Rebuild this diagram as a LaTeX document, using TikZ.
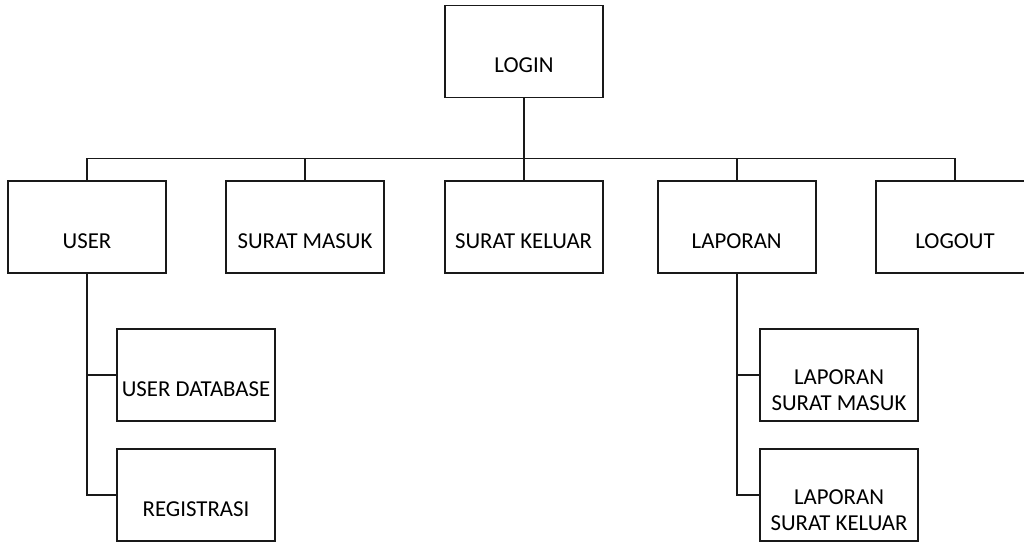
\documentclass[tikz,border=0pt]{standalone}
\usepackage{fontspec}
\setmainfont{Carlito}
\begin{document}
\begin{tikzpicture}[x=1pt,y=-1pt,
  box/.style={draw=black!90, line width=1.8pt, fill=white, minimum width=158pt, minimum height=92pt, inner sep=0pt},
  lbl/.style={font=\fontsize{22.8}{26.6}\selectfont, align=center, inner sep=0pt, text=black},
  link/.style={draw=black!90, line width=1.8pt}]
\useasboundingbox (0,0) rectangle (1024,542);
\clip (0,0) rectangle (1024,542);
\fill[white] (0,0) rectangle (1024,542);

% top level
\node[box] (login) at (524,51.5) {};
\node[lbl] (loginT) at ([yshift=-14pt]login.center) {LOGIN};

% second level
\node[box] (user)  at (87,227) {};
\node[box] (smasuk) at (305,227) {};
\node[box] (skeluar) at (523.6,227) {};
\node[box] (lap) at (736.7,227) {};
\node[box] (logout) at (955,227) {};
\node[lbl] (userT) at ([yshift=-14pt]user.center) {USER};
\node[lbl] (smasukT) at ([yshift=-14pt]smasuk.center) {SURAT MASUK};
\node[lbl] (skeluarT) at ([yshift=-14pt]skeluar.center) {SURAT KELUAR};
\node[lbl] (lapT) at ([yshift=-14pt]lap.center) {LAPORAN};
\node[lbl] (logoutT) at ([yshift=-14pt]logout.center) {LOGOUT};

% third level
\node[box] (udb) at (196,375) {};
\node[box] (reg) at (196,495) {};
\node[box] (lsm) at (839,375) {};
\node[box] (lsk) at (839,495) {};
\node[lbl] (udbT) at ([yshift=-14pt]udb.center) {USER DATABASE};
\node[lbl] (regT) at ([yshift=-14pt]reg.center) {REGISTRASI};
\node[lbl] (lsmT) at ([yshift=-15pt]lsm.center) {LAPORAN\\SURAT MASUK};
\node[lbl] (lskT) at ([yshift=-15pt]lsk.center) {LAPORAN\\SURAT KELUAR};

% bus line
\coordinate (bus) at (0,158.5);
\draw[link] (login.south) -- (login.south |- bus);
\draw[link] (user.north) -- (user.north |- bus) -- (logout.north |- bus) -- (logout.north);
\draw[link] (smasuk.north) -- (smasuk.north |- bus);
\draw[link] (skeluar.north) -- (skeluar.north |- bus);
\draw[link] (lap.north) -- (lap.north |- bus);

% sub-branches
\draw[link] (user.south) |- (udb.west);
\draw[link] (user.south) |- (reg.west);
\draw[link] (lap.south) |- (lsm.west);
\draw[link] (lap.south) |- (lsk.west);
\end{tikzpicture}
\end{document}
